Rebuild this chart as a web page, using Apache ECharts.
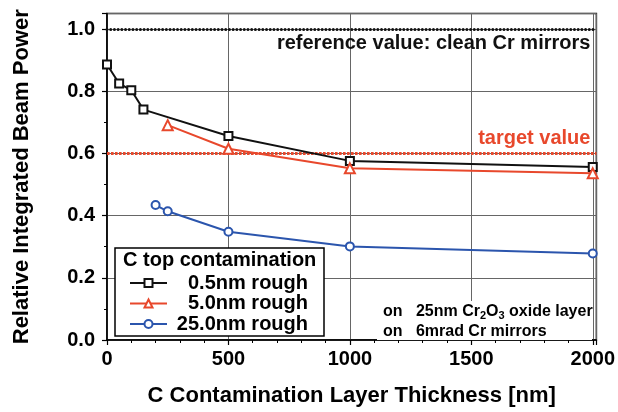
<!DOCTYPE html>
<html>
<head>
<meta charset="utf-8">
<script src="https://cdn.jsdelivr.net/npm/echarts@6/dist/echarts.min.js"></script>
<style>
  html, body { margin: 0; padding: 0; background: #fff; }
  #chart { width: 618px; height: 412px; }
</style>
</head>
<body>
<div id="chart"></div>
<script>
// Beam power vs. carbon contamination thickness, three roughness cases
const seriesNames = ['0.5nm rough', '5.0nm rough', '25.0nm rough'];

const thickness05 = [0, 50, 100, 150, 500, 1000, 2000];
const power05     = [0.886, 0.825, 0.803, 0.741, 0.656, 0.576, 0.556];

const thickness50 = [250, 500, 1000, 2000];
const power50     = [0.691, 0.615, 0.552, 0.536];

const thickness250 = [200, 250, 500, 1000, 2000];
const power250     = [0.434, 0.414, 0.348, 0.301, 0.278];

const referenceValue = 1.0;
const targetValue = 0.6;

const BLACK = '#111111';
const RED = '#e8482c';
const BLUE = '#2b55ad';
const FONT = '"Liberation Sans", Arial, Helvetica, sans-serif';

const pairs = (xs, ys) => xs.map((x, i) => [x, ys[i]]);

const chart = echarts.init(document.getElementById('chart'), null, { renderer: 'canvas' });

function lineSeries(name, data, color, symbol, size) {
  return {
    name: name,
    type: 'line',
    data: data,
    clip: false,
    symbol: symbol,
    symbolSize: size,
    showAllSymbol: true,
    lineStyle: { color: color, width: 2 },
    itemStyle: { color: color, borderWidth: 1.5 },
    z: 3
  };
}

const s05 = lineSeries(seriesNames[0], pairs(thickness05, power05), BLACK, 'emptyRect', 8);
const s50 = lineSeries(seriesNames[1], pairs(thickness50, power50), RED, 'emptyTriangle', 10);
const s250 = lineSeries(seriesNames[2], pairs(thickness250, power250), BLUE, 'emptyCircle', 8);

// reference and target levels
s05.markLine = {
  silent: true,
  symbol: ['none', 'none'],
  z: 2,
  data: [
    {
      yAxis: referenceValue,
      lineStyle: { color: BLACK, width: 3, type: [0.01, 3.7], cap: 'round' },
      label: {
        show: true, position: 'insideEndBottom', distance: [6, 4],
        formatter: 'reference value: clean Cr mirrors',
        color: BLACK, fontFamily: FONT, fontWeight: 'bold', fontSize: 20
      }
    },
    {
      yAxis: targetValue,
      lineStyle: { color: RED, width: 3, type: [2.6, 1.4], cap: 'butt' },
      label: {
        show: true, position: 'insideEndTop', distance: [6, 5],
        formatter: 'target value',
        color: RED, fontFamily: FONT, fontWeight: 'bold', fontSize: 20
      }
    }
  ]
};

const option = {
  backgroundColor: '#fff',
  animation: false,
  textStyle: { fontFamily: FONT },
  grid: {
    left: 107, right: 21, top: 13.5, bottom: 70.5,
    show: true, borderColor: '#000', borderWidth: 1.5, backgroundColor: 'transparent'
  },
  xAxis: {
    type: 'value',
    min: 0, max: 2015, interval: 500,
    name: 'C Contamination Layer Thickness [nm]',
    nameLocation: 'middle', nameGap: 45,
    nameTextStyle: { fontFamily: FONT, fontWeight: 'bold', fontSize: 22, color: '#000' },
    axisLine: { lineStyle: { color: '#000', width: 1.5 } },
    axisTick: { show: true, length: 5, lineStyle: { color: '#000', width: 1.2 } },
    minorTick: { show: true, splitNumber: 5, length: 3, lineStyle: { color: '#000', width: 1 } },
    axisLabel: {
      margin: 9, showMaxLabel: false,
      formatter: v => String(v),
      fontFamily: FONT, fontWeight: 'bold', fontSize: 20, color: '#000'
    },
    splitLine: { show: true, lineStyle: { color: '#666', width: 1 } }
  },
  yAxis: {
    type: 'value',
    min: 0, max: 1.05, interval: 0.2,
    name: 'Relative Integrated Beam Power',
    nameLocation: 'middle', nameGap: 74,
    nameTextStyle: { fontFamily: FONT, fontWeight: 'bold', fontSize: 22, color: '#000' },
    axisLine: { show: true, lineStyle: { color: '#000', width: 1.5 } },
    axisTick: { show: true, length: 5, lineStyle: { color: '#000', width: 1.2 } },
    minorTick: { show: true, splitNumber: 2, length: 3, lineStyle: { color: '#000', width: 1 } },
    axisLabel: {
      margin: 12, showMaxLabel: false,
      formatter: v => v.toFixed(1),
      fontFamily: FONT, fontWeight: 'bold', fontSize: 20, color: '#000'
    },
    splitLine: { show: true, lineStyle: { color: '#666', width: 1 } }
  },
  legend: {
    orient: 'vertical',
    left: 124, top: 268,
    itemGap: 0.5,
    itemWidth: 37, itemHeight: 10,
    z: 20,
    data: seriesNames,
    formatter: name => '{t|' + name + '}',
    textStyle: {
      color: '#000', fontFamily: FONT, fontWeight: 'bold', fontSize: 20,
      rich: { t: { width: 136, align: 'right', fontFamily: FONT, fontWeight: 'bold', fontSize: 20, lineHeight: 20 } }
    }
  },
  graphic: [
    {
      type: 'rect', z: 10,
      shape: { x: 115, y: 248, width: 209, height: 88 },
      style: { fill: '#fff', stroke: '#000', lineWidth: 1.5 }
    },
    {
      type: 'text', z: 21, left: 123, top: 250,
      style: { text: 'C top contamination', fill: '#000', font: 'bold 20px ' + FONT }
    },
    {
      type: 'rect', z: 10,
      shape: { x: 377, y: 301, width: 215, height: 39 },
      style: { fill: '#fff' }
    },
    {
      type: 'text', z: 21, left: 383, top: 304,
      style: {
        text: 'on   25nm Cr{s|2}O{s|3} oxide layer',
        fill: '#000', font: 'bold 16px ' + FONT,
        rich: { s: { fontSize: 11, fontWeight: 'bold', fontFamily: FONT, verticalAlign: 'bottom', padding: [8, 0, 0, 0] } }
      }
    },
    {
      type: 'text', z: 21, left: 383, top: 324,
      style: { text: 'on   6mrad Cr mirrors', fill: '#000', font: 'bold 16px ' + FONT }
    }
  ],
  series: [s05, s50, s250]
};

chart.setOption(option);
</script>
</body>
</html>
